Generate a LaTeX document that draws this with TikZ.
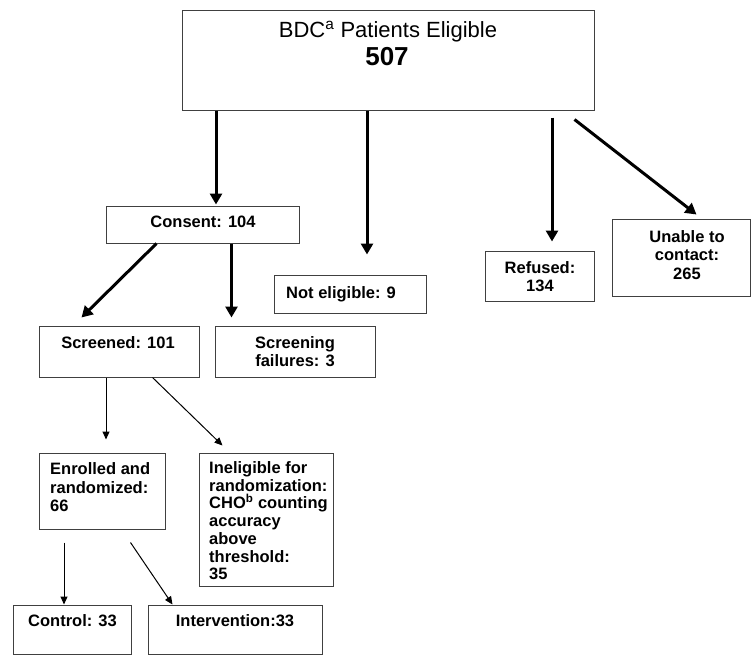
\documentclass[tikz,border=0pt]{standalone}
\usepackage{fontspec}
\setmainfont{Liberation Sans}
\usetikzlibrary{arrows.meta}
\definecolor{boxgray}{RGB}{64,64,64}

\begin{document}
\begin{tikzpicture}[x=1pt, y=-1pt,
  box/.style={rectangle, draw=boxgray, line width=1pt, inner sep=0pt},
  txt/.style={inner sep=0pt, font=\bfseries\fontsize{16.5}{18.5}\selectfont},
  bigarrow/.style={line width=3pt, -{Triangle[length=11pt, width=12pt]}},
  smallarrow/.style={line width=1pt, -{Triangle[length=8pt, width=7pt]}}]
\useasboundingbox (0,0) rectangle (751,656);

% Eligible patients
\node[box, minimum width=412pt, minimum height=100pt] (eligible) at (388,60) {};
\node[inner sep=0pt, anchor=base, font=\fontsize{22}{26}\selectfont] (eligibletxt) at (388,37.3) {BDC\textsuperscript{a} Patients Eligible};
\node[inner sep=0pt, anchor=base, font=\bfseries\fontsize{26}{30}\selectfont] (eligiblenum) at (387,65) {507};

% First level
\node[box, minimum width=193pt, minimum height=37pt] (consent) at (202.5,224.5) {};
\node[txt, anchor=base] (consenttxt) at (203,227) {Consent: 104};
\node[box, minimum width=152pt, minimum height=38pt] (noteligible) at (350,294) {};
\node[txt, anchor=base west] (noteligibletxt) at (286,298.3) {Not eligible: 9};
\node[box, minimum width=109pt, minimum height=50pt] (refused) at (539.5,276) {};
\node[txt, anchor=north, align=center] (refusedtxt) at (540,261.1) {Refused:\\134};
\node[box, minimum width=138pt, minimum height=77pt] (unable) at (681,257.5) {};
\node[txt, anchor=north, align=center] (unabletxt) at (687,230) {Unable to\\contact:\\265};

% Screening
\node[box, minimum width=160pt, minimum height=51pt] (screened) at (119,351.5) {};
\node[txt, anchor=base] (screenedtxt) at (118,348) {Screened: 101};
\node[box, minimum width=160pt, minimum height=51pt] (failures) at (295,351.5) {};
\node[txt, anchor=north, align=center] (failurestxt) at (295,336) {Screening\\failures: 3};

% Randomization
\node[box, minimum width=126pt, minimum height=76pt] (enrolled) at (102,491) {};
\node[txt, anchor=north west, align=left] (enrolledtxt) at (50,462.4) {Enrolled and\\randomized:\\66};
\node[box, minimum width=134pt, minimum height=133pt] (ineligible) at (266,519.5) {};
\node[txt, anchor=north west, align=left, font=\bfseries\fontsize{16.5}{17.7}\selectfont] (ineligibletxt) at (209,461.4) {Ineligible for\\randomization:\\CHO\textsuperscript{b} counting\\accuracy\\above\\threshold:\\35};

% Study arms
\node[box, minimum width=118pt, minimum height=49pt] (control) at (72,629.5) {};
\node[txt, anchor=base] (controltxt) at (72.5,626) {Control: 33};
\node[box, minimum width=174pt, minimum height=49pt] (intervention) at (235,629.5) {};
\node[txt, anchor=base] (interventiontxt) at (235,626) {Intervention:33};

% Arrows from eligible
\coordinate (toconsent) at ([xshift=13.5pt]consent.north);
\draw[bigarrow, shorten >=1pt] (eligible.south -| toconsent) -- (toconsent);
\coordinate (tonoteligible) at ([xshift=17pt]noteligible.north);
\draw[bigarrow, shorten >=20pt] (eligible.south -| tonoteligible) -- (tonoteligible);
\coordinate (torefused) at ([xshift=12.5pt]refused.north);
\draw[bigarrow, shorten <=7pt, shorten >=9pt] (eligible.south -| torefused) -- (torefused);
\draw[bigarrow] ([xshift=-20pt, yshift=-9pt]eligible.south east) -- ([xshift=85pt, yshift=4pt]unable.north west);

% Arrows from consent
\draw[bigarrow] ([xshift=51pt]consent.south west) -- ([xshift=43pt, yshift=8pt]screened.north west);
\coordinate (tofailures) at ([xshift=17pt]failures.north west);
\draw[bigarrow, shorten >=8pt] (consent.south -| tofailures) -- (tofailures);

% Arrows from screened
\coordinate (toenrolled) at ([xshift=4pt]enrolled.north);
\draw[smallarrow, shorten >=13pt] (screened.south -| toenrolled) -- (toenrolled);
\draw[smallarrow] ([xshift=114pt]screened.south west) -- ([xshift=24pt, yshift=7pt]ineligible.north west);

% Arrows from enrolled
\coordinate (tocontrol) at ([xshift=-8pt]control.north);
\draw[smallarrow, shorten <=13pt] (enrolled.south -| tocontrol) -- (tocontrol);
\draw[smallarrow] ([xshift=92pt, yshift=-13pt]enrolled.south west) -- ([xshift=25pt]intervention.north west);
\end{tikzpicture}
\end{document}
